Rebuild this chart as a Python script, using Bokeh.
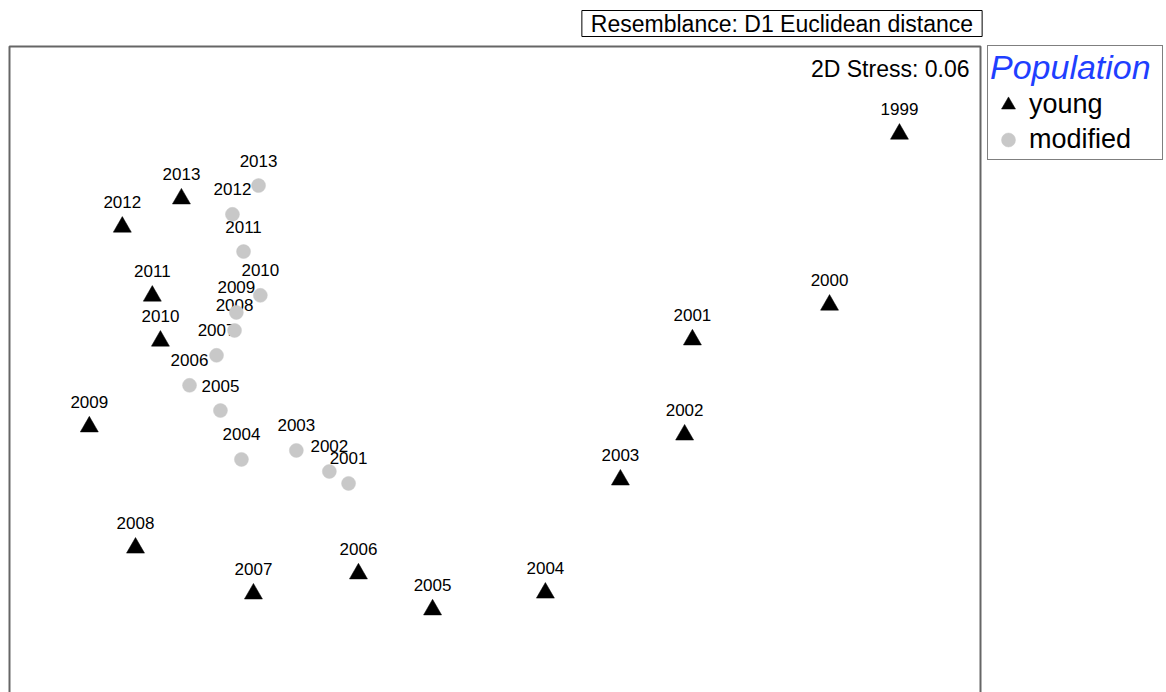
from bokeh.plotting import figure
from bokeh.models import Range1d, Label, Legend, LegendItem, ColumnDataSource, BoxAnnotation
from bokeh.core.properties import value
from bokeh.embed import file_html
from bokeh.resources import INLINE

# MDS ordination coordinates
young_years = ["1999", "2000", "2001", "2002", "2003", "2004", "2005", "2006",
               "2007", "2008", "2009", "2010", "2011", "2012", "2013"]
young_x = [1.348, 1.115, 0.658, 0.632, 0.418, 0.168, -0.208, -0.455,
           -0.805, -1.198, -1.352, -1.115, -1.142, -1.242, -1.045]
young_y = [0.785, 0.215, 0.099, -0.218, -0.368, -0.745, -0.801, -0.681,
           -0.748, -0.595, -0.191, 0.095, 0.245, 0.475, 0.569]

modified_years = ["2001", "2002", "2003", "2004", "2005", "2006", "2007",
                  "2008", "2009", "2010", "2011", "2012", "2013"]
modified_x = [-0.488, -0.552, -0.662, -0.845, -0.915, -1.018, -0.928,
              -0.868, -0.862, -0.782, -0.838, -0.875, -0.788]
modified_y = [-0.380, -0.340, -0.270, -0.300, -0.137, -0.053, 0.047,
              0.130, 0.190, 0.247, 0.393, 0.517, 0.613]

stress_text = "2D Stress: 0.06"
resemblance_text = "Resemblance: D1 Euclidean distance"
legend_title = "Population"
group_names = ["young", "modified"]

FONT = "Liberation Sans"
W, H = 1166, 692

p = figure(width=W, height=H,
           x_range=Range1d(-1.648, 2.238), y_range=Range1d(-1.077, 1.230),
           x_axis_type=None, y_axis_type=None,
           output_backend="svg", toolbar_location=None,
           min_border=0)
p.outline_line_color = None
p.background_fill_color = "white"
p.border_fill_color = "white"

# ordination panel box
p.add_layout(BoxAnnotation(left=9, right=980, top=H - 46, bottom=-3,
                           left_units="screen", right_units="screen",
                           top_units="screen", bottom_units="screen",
                           fill_color=None, fill_alpha=0,
                           line_color="#666666", line_alpha=1.0, line_width=2,
                           level="underlay"))

src_y = ColumnDataSource(dict(x=young_x, y=young_y, t=young_years))
src_m = ColumnDataSource(dict(x=modified_x, y=modified_y, t=modified_years))

for src in (src_y, src_m):
    p.text(x="x", y="y", text="t", source=src, y_offset=-25,
           text_align="center", text_baseline="alphabetic",
           text_font=value(FONT), text_font_size="17px", text_color="black")

r_young = p.scatter(x="x", y="y", source=src_y, marker="triangle", size=18,
                    fill_color="black", line_color="black", line_width=0.5)
r_mod = p.scatter(x="x", y="y", source=src_m, marker="circle", size=14,
                  fill_color="#c8c8c8", line_color="#c8c8c8", line_width=0.5)

# stress annotation (top-right inside panel)
p.add_layout(Label(x=969, y=H - 68.5, x_units="screen", y_units="screen",
                   text=stress_text, text_align="right", text_baseline="middle",
                   text_font=FONT, text_font_size="23px", text_color="black"))

# resemblance box above the panel
p.add_layout(Label(x=781.5, y=H - 23, x_units="screen", y_units="screen",
                   text=resemblance_text, text_align="center", text_baseline="middle",
                   text_font=FONT, text_font_size="23px", text_color="black",
                   border_line_color="black", border_line_width=1,
                   background_fill_color="white", padding=(9, 9, 0, 0)))

legend = Legend(items=[LegendItem(label=group_names[0], renderers=[r_young]),
                       LegendItem(label=group_names[1], renderers=[r_mod])],
                location=(987, H - 160), margin=0, padding=2, spacing=0,
                title=legend_title, title_text_font=FONT, title_text_font_size="34px",
                title_text_font_style="italic", title_text_color="#1f3fff",
                title_standoff=0,
                label_text_font=FONT, label_text_font_size="27px",
                label_text_color="black", label_standoff=3,
                glyph_width=36, glyph_height=35, label_width=131,
                border_line_color="black", border_line_width=1,
                background_fill_color="white", background_fill_alpha=1.0)
p.add_layout(legend, "center")

open("out.html", "w").write(file_html(p, INLINE))
